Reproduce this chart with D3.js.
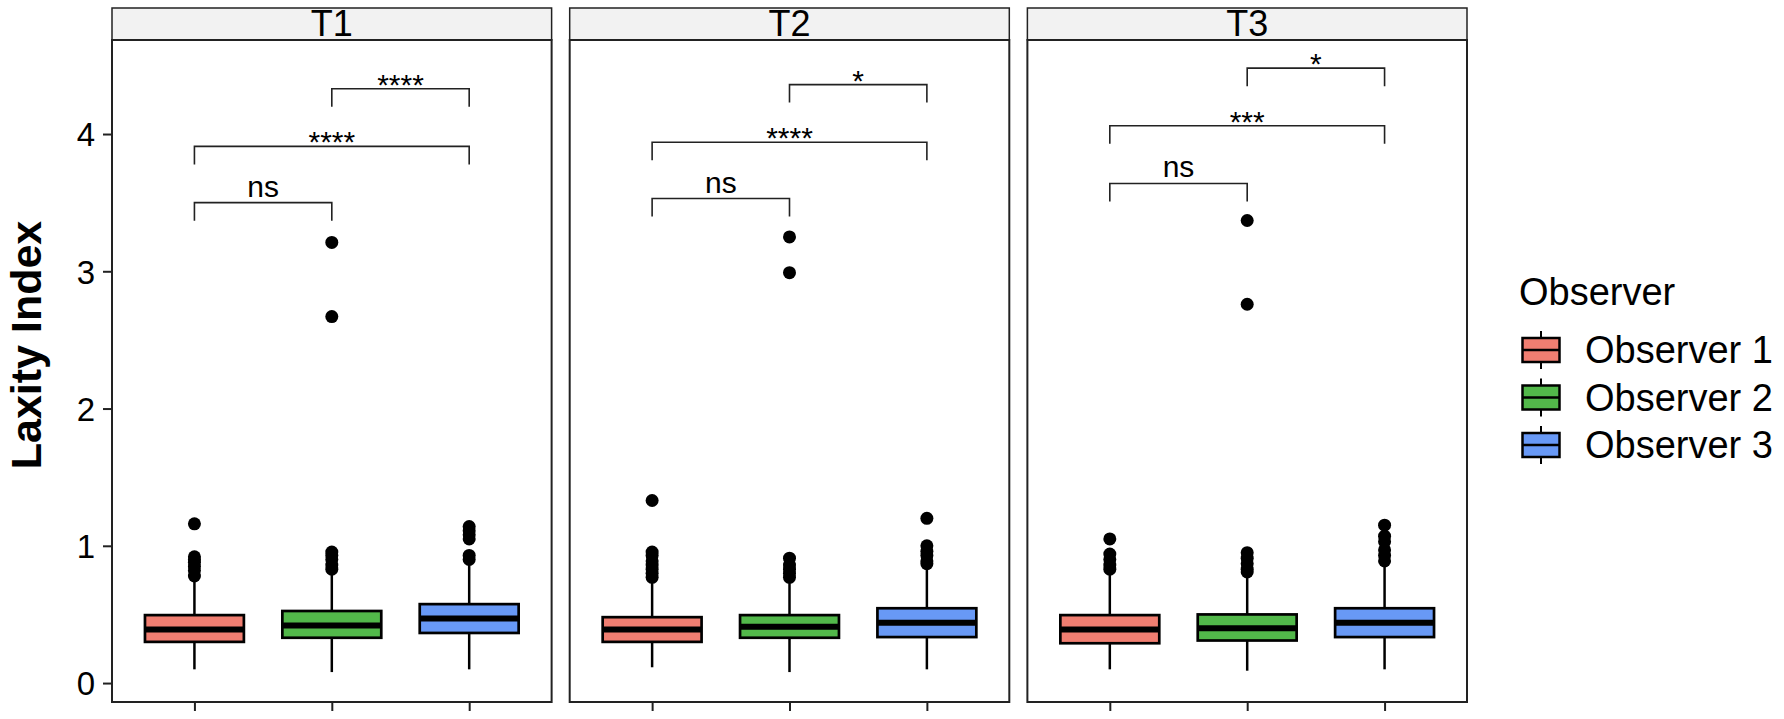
<!DOCTYPE html>
<html>
<head>
<meta charset="utf-8">
<script src="https://cdn.jsdelivr.net/npm/d3@7"></script>
<style>
	body { margin: 0; background: #ffffff; }
	text { font-family: "Liberation Sans", Arial, Helvetica, sans-serif; fill: #000000; }
</style>
</head>
<body>
<svg id="chart" width="1784" height="719"></svg>
<script>

// Chart data
var timepoints = ['T1', 'T2', 'T3'];
var observers = ['Observer 1', 'Observer 2', 'Observer 3'];
var colours = ['#F07E71', '#52B84A', '#6899F6'];

// Box statistics: [lower whisker, q1, median, q3, upper whisker]
var statsT1 = [[0.10, 0.30, 0.39, 0.495, 0.75], [0.08, 0.33, 0.42, 0.525, 0.80], [0.10, 0.365, 0.47, 0.575, 0.88]];
var statsT2 = [[0.115, 0.30, 0.39, 0.48, 0.75], [0.08, 0.33, 0.41, 0.495, 0.75], [0.10, 0.335, 0.44, 0.545, 0.85]];
var statsT3 = [[0.10, 0.29, 0.39, 0.495, 0.80], [0.09, 0.31, 0.40, 0.50, 0.79], [0.10, 0.335, 0.44, 0.545, 0.85]];

// Outliers
var outliersT1 = [[1.16, 0.92, 0.90, 0.88, 0.85, 0.82, 0.78], [3.21, 2.67, 0.955, 0.93, 0.90, 0.86, 0.83], [1.14, 1.11, 1.08, 1.05, 0.93, 0.90]];
var outliersT2 = [[1.33, 0.955, 0.93, 0.89, 0.86, 0.83, 0.80, 0.77], [3.25, 2.99, 0.91, 0.86, 0.83, 0.80, 0.77], [1.20, 1.00, 0.96, 0.93, 0.89, 0.87]];
var outliersT3 = [[1.05, 0.94, 0.90, 0.86, 0.83], [3.37, 2.76, 0.95, 0.91, 0.87, 0.83, 0.81], [1.15, 1.07, 1.03, 0.97, 0.93, 0.89]];

// Significance brackets (pairs of observers, heights and labels)
var bracketPairs = [[0, 1], [0, 2], [1, 2]];
var bracketT1 = [3.50, 3.91, 4.33];
var bracketT2 = [3.53, 3.94, 4.36];
var bracketT3 = [3.64, 4.06, 4.48];
var labelsT1 = ['ns', '****', '****'];
var labelsT2 = ['ns', '****', '*'];
var labelsT3 = ['ns', '***', '*'];

var yTicks = [0, 1, 2, 3, 4];

var allStats = [statsT1, statsT2, statsT3];
var allOutliers = [outliersT1, outliersT2, outliersT3];
var allBrackets = [bracketT1, bracketT2, bracketT3];
var allLabels = [labelsT1, labelsT2, labelsT3];

// Layout
var chart = d3.select('#chart');
var panelTop = 40, panelBottom = 702, stripTop = 8;

var panelScale = d3.scaleBand()
	.domain(timepoints)
	.range([112, 1467])
	.paddingInner(0.0395);

var panelWidth = panelScale.bandwidth();

var x = d3.scalePoint()
	.domain(observers)
	.range([0, panelWidth])
	.padding(0.6);

var boxWidth = x.step() * 0.72;

var y = d3.scaleLinear()
	.domain([-0.138, 4.685])
	.range([panelBottom, panelTop]);

// Draw one panel
function drawPanel(t, i) {

	var panel = chart.append('g')
		.attr('class', 'panel')
		.attr('transform', 'translate(' + panelScale(t) + ',0)');

	// Strip
	panel.append('rect')
		.attr('x', 0)
		.attr('y', stripTop)
		.attr('width', panelWidth)
		.attr('height', panelTop - stripTop)
		.style('fill', '#f2f2f2')
		.style('stroke', '#222222')
		.style('stroke-width', 1.5);

	panel.append('text')
		.attr('x', panelWidth / 2)
		.attr('y', 36)
		.style('text-anchor', 'middle')
		.style('font-size', '36px')
		.text(t);

	// Bottom ticks
	panel.append('g')
		.attr('transform', 'translate(0,' + panelBottom + ')')
		.call(d3.axisBottom(x).tickSize(9).tickFormat(''))
		.call(function(g) { g.select('.domain').remove(); })
		.selectAll('line')
		.style('stroke', '#222222')
		.style('stroke-width', 2);

	// Boxes
	var boxes = panel.selectAll('.box')
		.data(allStats[i])
		.enter()
		.append('g')
		.attr('class', 'box')
		.attr('transform', function(d, j) { return 'translate(' + x(observers[j]) + ',0)'; });

	boxes.append('line')
		.attr('x1', 0).attr('x2', 0)
		.attr('y1', function(d) { return y(d[0]); })
		.attr('y2', function(d) { return y(d[4]); })
		.style('stroke', '#000000')
		.style('stroke-width', 2.5);

	boxes.append('rect')
		.attr('x', -boxWidth / 2)
		.attr('width', boxWidth)
		.attr('y', function(d) { return y(d[3]); })
		.attr('height', function(d) { return y(d[1]) - y(d[3]); })
		.style('fill', function(d, j) { return colours[j]; })
		.style('stroke', '#000000')
		.style('stroke-width', 2.7);

	boxes.append('line')
		.attr('x1', -boxWidth / 2).attr('x2', boxWidth / 2)
		.attr('y1', function(d) { return y(d[2]); })
		.attr('y2', function(d) { return y(d[2]); })
		.style('stroke', '#000000')
		.style('stroke-width', 6);

	// Outliers
	allOutliers[i].forEach(function(vals, j) {
		panel.selectAll('.out' + j)
			.data(vals)
			.enter()
			.append('circle')
			.attr('class', 'out' + j)
			.attr('cx', x(observers[j]))
			.attr('cy', function(d) { return y(d); })
			.attr('r', 6.5)
			.style('fill', '#000000');
	});

	// Significance brackets
	var brackets = panel.selectAll('.bracket')
		.data(bracketPairs)
		.enter()
		.append('g')
		.attr('class', 'bracket');

	brackets.append('path')
		.attr('d', function(d, k) {
			var x1 = x(observers[d[0]]), x2 = x(observers[d[1]]), yb = y(allBrackets[i][k]);
			return 'M' + x1 + ',' + (yb + 18) + 'V' + yb + 'H' + x2 + 'V' + (yb + 18);
		})
		.style('fill', 'none')
		.style('stroke', '#222222')
		.style('stroke-width', 1.6);

	brackets.append('text')
		.attr('x', function(d) { return (x(observers[d[0]]) + x(observers[d[1]])) / 2; })
		.attr('y', function(d, k) {
			var yb = y(allBrackets[i][k]);
			return allLabels[i][k] == 'ns' ? yb - 6 : yb + 6;
		})
		.style('text-anchor', 'middle')
		.style('font-size', '30px')
		.text(function(d, k) { return allLabels[i][k]; });

	// Panel border
	panel.append('rect')
		.attr('x', 0)
		.attr('y', panelTop)
		.attr('width', panelWidth)
		.attr('height', panelBottom - panelTop)
		.style('fill', 'none')
		.style('stroke', '#222222')
		.style('stroke-width', 2);
};

timepoints.forEach(drawPanel);

// Y axis
chart.append('g')
	.attr('transform', 'translate(' + panelScale(timepoints[0]) + ',0)')
	.call(d3.axisLeft(y).tickValues(yTicks).tickFormat(d3.format('d')).tickSize(9).tickPadding(8))
	.call(function(g) {
		g.select('.domain').remove();
		g.selectAll('line').style('stroke', '#222222').style('stroke-width', 2);
		g.selectAll('text')
			.style('font-size', '33px')
			.style('font-family', '"Liberation Sans", Arial, sans-serif')
			.attr('dy', '0.36em');
	});

chart.append('text')
	.attr('transform', 'translate(41,345) rotate(-90)')
	.style('text-anchor', 'middle')
	.style('font-size', '43px')
	.style('font-weight', 'bold')
	.text('Laxity Index');

// Legend
var legend = chart.append('g')
	.attr('class', 'legend');

legend.append('text')
	.attr('x', 1519)
	.attr('y', 305)
	.style('font-size', '38px')
	.text('Observer');

var keys = legend.selectAll('.key')
	.data(observers)
	.enter()
	.append('g')
	.attr('class', 'key')
	.attr('transform', function(d, i) { return 'translate(1541,' + (350 + i * 47.5) + ')'; });

keys.append('line')
	.attr('x1', 0).attr('x2', 0)
	.attr('y1', -19).attr('y2', 19)
	.style('stroke', '#000000')
	.style('stroke-width', 2);

keys.append('rect')
	.attr('x', -18.5).attr('y', -12)
	.attr('width', 37).attr('height', 24)
	.style('fill', function(d, i) { return colours[i]; })
	.style('stroke', '#000000')
	.style('stroke-width', 2.5);

keys.append('line')
	.attr('x1', -18.5).attr('x2', 18.5)
	.attr('y1', 0).attr('y2', 0)
	.style('stroke', '#000000')
	.style('stroke-width', 2.7);

keys.append('text')
	.attr('x', 44)
	.attr('y', 13)
	.style('font-size', '38px')
	.text(function(d) { return d; });

</script>
</body>
</html>
